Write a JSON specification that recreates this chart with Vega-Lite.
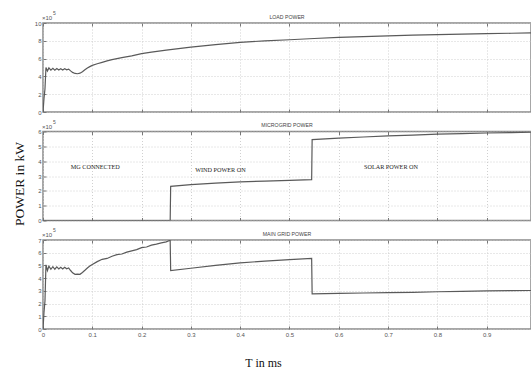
{
  "$schema": "https://vega.github.io/schema/vega-lite/v6.json",
  "background": "white",
  "padding": {"left": 11, "top": 10, "right": 0, "bottom": 2},
  "spacing": 19.5,
  "bounds": "flush",
  "config": {
    "view": {"stroke": "#8a8a8a", "strokeWidth": 1.5},
    "axis": {"labelFont": "Liberation Sans", "labelFontSize": 6, "labelColor": "#555", "labelOverlap": false, "labelFlush": false, "gridColor": "#c4c4c4", "gridDash": [1, 2], "gridWidth": 0.8, "domain": false, "tickColor": "#777", "tickSize": -3, "labelPadding": 5},
    "title": {"font": "Liberation Sans", "fontSize": 5.2, "fontWeight": "normal", "color": "#444", "offset": -9},
    "line": {"color": "#5a5a5a", "strokeWidth": 1.2}
  },
  "datasets": {
    "load": [
      {"t": 0, "v": 0}, {"t": 0.002, "v": 1.5}, {"t": 0.004, "v": 2.6}, {"t": 0.006, "v": 5.0}, {"t": 0.009, "v": 4.6}, {"t": 0.012, "v": 4.95}, {"t": 0.016, "v": 4.7}, {"t": 0.02, "v": 4.9}, {"t": 0.024, "v": 4.7}, {"t": 0.028, "v": 4.88}, {"t": 0.032, "v": 4.72}, {"t": 0.036, "v": 4.86}, {"t": 0.04, "v": 4.72}, {"t": 0.044, "v": 4.86}, {"t": 0.048, "v": 4.74}, {"t": 0.052, "v": 4.82}, {"t": 0.056, "v": 4.62}, {"t": 0.06, "v": 4.45}, {"t": 0.065, "v": 4.33}, {"t": 0.07, "v": 4.3}, {"t": 0.075, "v": 4.36}, {"t": 0.08, "v": 4.52}, {"t": 0.085, "v": 4.75}, {"t": 0.09, "v": 4.95}, {"t": 0.095, "v": 5.1}, {"t": 0.1, "v": 5.24}, {"t": 0.11, "v": 5.42}, {"t": 0.12, "v": 5.58}, {"t": 0.13, "v": 5.74}, {"t": 0.14, "v": 5.88}, {"t": 0.15, "v": 6.0}, {"t": 0.16, "v": 6.1}, {"t": 0.18, "v": 6.3}, {"t": 0.2, "v": 6.55}, {"t": 0.22, "v": 6.72}, {"t": 0.25, "v": 6.95}, {"t": 0.3, "v": 7.3}, {"t": 0.35, "v": 7.58}, {"t": 0.4, "v": 7.82}, {"t": 0.45, "v": 8.0}, {"t": 0.5, "v": 8.12}, {"t": 0.55, "v": 8.26}, {"t": 0.6, "v": 8.38}, {"t": 0.65, "v": 8.48}, {"t": 0.7, "v": 8.56}, {"t": 0.75, "v": 8.63}, {"t": 0.8, "v": 8.69}, {"t": 0.85, "v": 8.75}, {"t": 0.9, "v": 8.8}, {"t": 0.95, "v": 8.85}, {"t": 0.99, "v": 8.88}
    ],
    "micro": [
      {"t": 0, "v": 0}, {"t": 0.258, "v": 0}, {"t": 0.259, "v": 2.3}, {"t": 0.3, "v": 2.42}, {"t": 0.35, "v": 2.52}, {"t": 0.4, "v": 2.6}, {"t": 0.45, "v": 2.66}, {"t": 0.5, "v": 2.71}, {"t": 0.545, "v": 2.75}, {"t": 0.546, "v": 5.45}, {"t": 0.6, "v": 5.55}, {"t": 0.65, "v": 5.63}, {"t": 0.7, "v": 5.7}, {"t": 0.75, "v": 5.76}, {"t": 0.8, "v": 5.82}, {"t": 0.85, "v": 5.86}, {"t": 0.9, "v": 5.9}, {"t": 0.95, "v": 5.93}, {"t": 0.99, "v": 5.96}
    ],
    "grid": [
      {"t": 0, "v": 0}, {"t": 0.002, "v": 1.3}, {"t": 0.004, "v": 2.2}, {"t": 0.006, "v": 5.05}, {"t": 0.009, "v": 4.6}, {"t": 0.012, "v": 4.95}, {"t": 0.016, "v": 4.7}, {"t": 0.02, "v": 4.9}, {"t": 0.024, "v": 4.7}, {"t": 0.028, "v": 4.88}, {"t": 0.032, "v": 4.72}, {"t": 0.036, "v": 4.86}, {"t": 0.04, "v": 4.72}, {"t": 0.044, "v": 4.86}, {"t": 0.048, "v": 4.74}, {"t": 0.052, "v": 4.8}, {"t": 0.056, "v": 4.6}, {"t": 0.06, "v": 4.42}, {"t": 0.065, "v": 4.3}, {"t": 0.07, "v": 4.32}, {"t": 0.075, "v": 4.3}, {"t": 0.08, "v": 4.45}, {"t": 0.085, "v": 4.62}, {"t": 0.09, "v": 4.8}, {"t": 0.095, "v": 4.95}, {"t": 0.1, "v": 5.08}, {"t": 0.11, "v": 5.3}, {"t": 0.12, "v": 5.48}, {"t": 0.13, "v": 5.55}, {"t": 0.14, "v": 5.72}, {"t": 0.15, "v": 5.85}, {"t": 0.16, "v": 5.9}, {"t": 0.17, "v": 6.05}, {"t": 0.18, "v": 6.15}, {"t": 0.19, "v": 6.24}, {"t": 0.2, "v": 6.4}, {"t": 0.21, "v": 6.45}, {"t": 0.22, "v": 6.6}, {"t": 0.23, "v": 6.68}, {"t": 0.24, "v": 6.78}, {"t": 0.25, "v": 6.85}, {"t": 0.258, "v": 6.98}, {"t": 0.259, "v": 4.6}, {"t": 0.3, "v": 4.78}, {"t": 0.35, "v": 5.0}, {"t": 0.4, "v": 5.2}, {"t": 0.45, "v": 5.34}, {"t": 0.5, "v": 5.45}, {"t": 0.545, "v": 5.55}, {"t": 0.546, "v": 2.76}, {"t": 0.6, "v": 2.8}, {"t": 0.65, "v": 2.83}, {"t": 0.7, "v": 2.86}, {"t": 0.75, "v": 2.88}, {"t": 0.8, "v": 2.93}, {"t": 0.85, "v": 2.96}, {"t": 0.9, "v": 3.0}, {"t": 0.95, "v": 3.02}, {"t": 0.99, "v": 3.03}
    ]
  },
  "vconcat": [
    {
      "width": 488, "height": 89,
      "title": "LOAD POWER",
      "resolve": {"axis": {"x": "independent", "y": "independent"}},
      "layer": [
        {
          "data": {"name": "load"},
          "mark": {"type": "line", "clip": true},
          "encoding": {
            "x": {"field": "t", "type": "quantitative", "scale": {"domain": [0, 0.99], "nice": false}, "axis": {"values": [0, 0.1, 0.2, 0.3, 0.4, 0.5, 0.6, 0.7, 0.8, 0.9], "labels": false, "title": null}},
            "y": {"field": "v", "type": "quantitative", "scale": {"domain": [0, 10], "nice": false}, "axis": {"values": [0, 2, 4, 6, 8, 10], "title": null}}
          }
        },
        {
          "data": {"values": [{"t": 0, "v": 10, "label": "×10"}]},
          "mark": {"type": "text", "align": "left", "baseline": "bottom", "dx": -1, "dy": -2, "font": "Liberation Sans", "fontSize": 6, "color": "#555"},
          "encoding": {
            "x": {"field": "t", "type": "quantitative", "axis": {"orient": "top", "values": [0, 0.1, 0.2, 0.3, 0.4, 0.5, 0.6, 0.7, 0.8, 0.9], "labels": false, "grid": false, "title": null}},
            "y": {"field": "v", "type": "quantitative", "axis": null},
            "text": {"field": "label"}
          }
        },
        {
          "data": {"values": [{"t": 0, "v": 10, "label": "5"}]},
          "mark": {"type": "text", "align": "left", "baseline": "bottom", "dx": 10, "dy": -7, "font": "Liberation Sans", "fontSize": 5, "color": "#555"},
          "encoding": {
            "x": {"field": "t", "type": "quantitative", "axis": null},
            "y": {"field": "v", "type": "quantitative", "axis": null},
            "text": {"field": "label"}
          }
        }
      ]
    },
    {
      "width": 488, "height": 89,
      "title": "MICROGRID POWER",
      "resolve": {"axis": {"x": "independent", "y": "independent"}},
      "layer": [
        {
          "data": {"name": "micro"},
          "mark": {"type": "line", "clip": true},
          "encoding": {
            "x": {"field": "t", "type": "quantitative", "scale": {"domain": [0, 0.99], "nice": false}, "axis": {"values": [0, 0.1, 0.2, 0.3, 0.4, 0.5, 0.6, 0.7, 0.8, 0.9], "labels": false, "title": null}},
            "y": {"field": "v", "type": "quantitative", "scale": {"domain": [0, 6], "nice": false}, "axis": {"values": [0, 1, 2, 3, 4, 5, 6], "title": "POWER in kW", "titleFont": "Liberation Serif", "titleFontSize": 13.5, "titleFontWeight": "normal", "titleColor": "#111", "titleAngle": 270, "titleX": -24, "titleY": 52, "titleAlign": "center", "titleBaseline": "middle"}}
          }
        },
        {
          "data": {"values": [{"t": 0, "v": 6, "label": "×10"}]},
          "mark": {"type": "text", "align": "left", "baseline": "bottom", "dx": -1, "dy": -2, "font": "Liberation Sans", "fontSize": 6, "color": "#555"},
          "encoding": {
            "x": {"field": "t", "type": "quantitative", "axis": {"orient": "top", "values": [0, 0.1, 0.2, 0.3, 0.4, 0.5, 0.6, 0.7, 0.8, 0.9], "labels": false, "grid": false, "title": null}},
            "y": {"field": "v", "type": "quantitative", "axis": null},
            "text": {"field": "label"}
          }
        },
        {
          "data": {"values": [{"t": 0, "v": 6, "label": "5"}]},
          "mark": {"type": "text", "align": "left", "baseline": "bottom", "dx": 10, "dy": -7, "font": "Liberation Sans", "fontSize": 5, "color": "#555"},
          "encoding": {
            "x": {"field": "t", "type": "quantitative", "axis": null},
            "y": {"field": "v", "type": "quantitative", "axis": null},
            "text": {"field": "label"}
          }
        },
        {
          "data": {"values": [
            {"t": 0.106, "v": 3.63, "label": "MG CONNECTED"},
            {"t": 0.36, "v": 3.43, "label": "WIND POWER ON"},
            {"t": 0.706, "v": 3.6, "label": "SOLAR POWER ON"}
          ]},
          "mark": {"type": "text", "align": "center", "baseline": "middle", "font": "Liberation Serif", "fontSize": 6.2, "color": "#222"},
          "encoding": {
            "x": {"field": "t", "type": "quantitative", "axis": null},
            "y": {"field": "v", "type": "quantitative", "axis": null},
            "text": {"field": "label"}
          }
        }
      ]
    },
    {
      "width": 488, "height": 89,
      "title": "MAIN GRID POWER",
      "resolve": {"axis": {"x": "independent", "y": "independent"}},
      "layer": [
        {
          "data": {"name": "grid"},
          "mark": {"type": "line", "clip": true},
          "encoding": {
            "x": {"field": "t", "type": "quantitative", "scale": {"domain": [0, 0.99], "nice": false}, "axis": {"values": [0, 0.1, 0.2, 0.3, 0.4, 0.5, 0.6, 0.7, 0.8, 0.9], "format": ".1~f", "title": "T in ms", "titleFont": "Liberation Serif", "titleFontSize": 12, "titleFontWeight": "normal", "titleColor": "#111", "titleX": 220, "titleY": 37, "titleAlign": "center", "titleBaseline": "alphabetic"}},
            "y": {"field": "v", "type": "quantitative", "scale": {"domain": [0, 7], "nice": false}, "axis": {"values": [0, 1, 2, 3, 4, 5, 6, 7], "title": null}}
          }
        },
        {
          "data": {"values": [{"t": 0, "v": 7, "label": "×10"}]},
          "mark": {"type": "text", "align": "left", "baseline": "bottom", "dx": -1, "dy": -2, "font": "Liberation Sans", "fontSize": 6, "color": "#555"},
          "encoding": {
            "x": {"field": "t", "type": "quantitative", "axis": {"orient": "top", "values": [0, 0.1, 0.2, 0.3, 0.4, 0.5, 0.6, 0.7, 0.8, 0.9], "labels": false, "grid": false, "title": null}},
            "y": {"field": "v", "type": "quantitative", "axis": null},
            "text": {"field": "label"}
          }
        },
        {
          "data": {"values": [{"t": 0, "v": 7, "label": "5"}]},
          "mark": {"type": "text", "align": "left", "baseline": "bottom", "dx": 10, "dy": -7, "font": "Liberation Sans", "fontSize": 5, "color": "#555"},
          "encoding": {
            "x": {"field": "t", "type": "quantitative", "axis": null},
            "y": {"field": "v", "type": "quantitative", "axis": null},
            "text": {"field": "label"}
          }
        }
      ]
    }
  ]
}
